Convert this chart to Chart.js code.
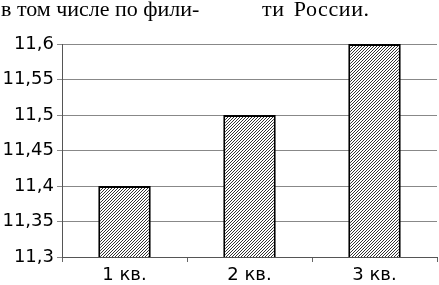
<!DOCTYPE html>
<html>
<head>
<meta charset="utf-8">
<script src="https://cdn.jsdelivr.net/npm/chart.js@4/dist/chart.umd.min.js"></script>
<style>
  html, body { margin: 0; padding: 0; background: #fff; }
  #wrap { position: relative; width: 439px; height: 285px; overflow: hidden; }
  .caption { position: absolute; top: -4px; font-family: "Liberation Serif", "Times New Roman", serif; font-size: 22px; color: #000; white-space: nowrap; }
</style>
</head>
<body>
<div id="wrap">
  <canvas id="quarterChart" width="439" height="285"></canvas>
  <span class="caption" style="left:1px">в том числе по фили-</span>
  <span class="caption" style="left:262px; word-spacing:3px; letter-spacing:0.6px">ти России.</span>
</div>
<script>
// quarters and values
const quarters = ['1 кв.', '2 кв.', '3 кв.'];
const values = [11.4, 11.5, 11.6];
const yTickLabels = ['11,3', '11,35', '11,4', '11,45', '11,5', '11,55', '11,6'];

// diagonal hatch fill like the original
function makeHatch() {
    const c = document.createElement('canvas');
    c.width = 3;
    c.height = 3;
    const g = c.getContext('2d');
    g.fillStyle = '#fff';
    g.fillRect(0, 0, 3, 3);
    g.fillStyle = '#333';
    // one pixel per row, shifted each row -> "/" lines
    g.fillRect(2, 0, 1, 1);
    g.fillRect(1, 1, 1, 1);
    g.fillRect(0, 2, 1, 1);
    return g.createPattern(c, 'repeat');
}

const ctx = document.getElementById('quarterChart').getContext('2d');
const tickFont = { family: '"DejaVu Sans", sans-serif', size: 18 };

new Chart(ctx, {
    type: 'bar',
    data: {
        labels: quarters,
        datasets: [{
            data: values,
            backgroundColor: makeHatch(),
            borderColor: '#000',
            borderWidth: 2,
            borderSkipped: false,
            barPercentage: 0.42,
            categoryPercentage: 1
        }]
    },
    options: {
        responsive: false,
        animation: false,
        layout: { padding: { top: 44, right: 2, left: 0, bottom: 0 } },
        plugins: { legend: { display: false }, tooltip: { enabled: false } },
        scales: {
            x: {
                offset: true,
                grid: { offset: true, drawOnChartArea: false, drawTicks: true, tickLength: 5, color: '#666' },
                border: { color: '#555', width: 1 },
                ticks: { color: '#000', font: tickFont, padding: 3 },
                afterFit: s => { s.height = 28; }
            },
            y: {
                min: 11.3,
                max: 11.6,
                grid: { color: '#888', tickLength: 5, drawTicks: true },
                border: { color: '#555', width: 1 },
                ticks: {
                    stepSize: 0.05,
                    color: '#000',
                    font: tickFont,
                    padding: 3,
                    callback: (v, i) => yTickLabels[i]
                },
                afterFit: s => { s.width = 62; }
            }
        }
    }
});
</script>
</body>
</html>
